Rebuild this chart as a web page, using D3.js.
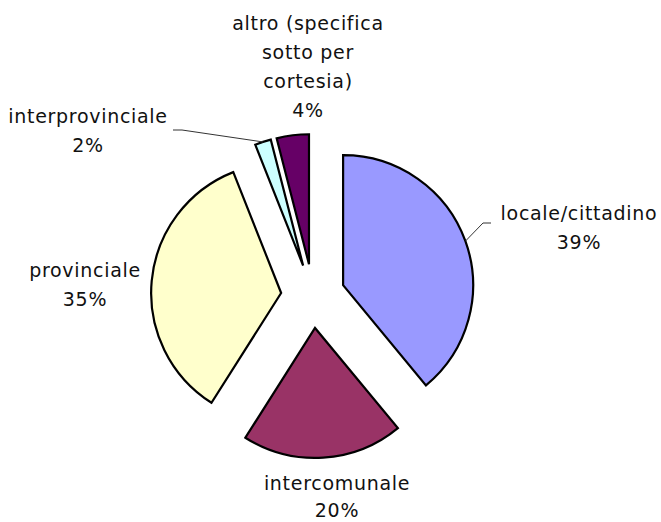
<!DOCTYPE html>
<html>
<head>
<meta charset="utf-8">
<script src="https://cdn.jsdelivr.net/npm/d3@7/dist/d3.min.js"></script>
<style>
  html, body { margin: 0; padding: 0; background: #fff; }
  svg { display: block; }
  text { font-family: "DejaVu Sans", Verdana, sans-serif; font-size: 19px; fill: #111; letter-spacing: 0.7px; }
</style>
</head>
<body>
<svg id="chart" width="661" height="522"></svg>
<script>
// ---- data ----
const categories = ["locale/cittadino", "intercomunale", "provinciale", "interprovinciale", "altro (specifica sotto per cortesia)"];
const values = [39, 20, 35, 2, 4];
const percentLabels = ["39%", "20%", "35%", "2%", "4%"];
const colors = ["#9999FF", "#993366", "#FFFFCC", "#CCFFFF", "#660066"];
// label text lines (as wrapped in the original)
const labelLines = [
  ["locale/cittadino"],
  ["intercomunale"],
  ["provinciale"],
  ["interprovinciale"],
  ["altro (specifica", "sotto per", "cortesia)"]
];

// ---- layout ----
const W = 661, H = 522;
const cx = 313, cy = 296, R = 130, explode = 32;
const lineH = 29;
// label anchor (center x, first baseline y)
const labelPos = [
  { x: 579, y: 220, lh: 29, leader: [[491, 223], [483, 223]] },
  { x: 337, y: 490, lh: 27, leader: null },
  { x: 85,  y: 277, lh: 29, leader: null },
  { x: 88,  y: 123, lh: 29, leader: [[173, 130], [182, 130]] },
  { x: 308, y: 30,  lh: 29, leader: null }
];

const svg = d3.select("#chart");

const pie = d3.pie().sort(null).value(d => d)
  .startAngle(0).endAngle(2 * Math.PI);
const arcs = pie(values);
const arcGen = d3.arc().innerRadius(0).outerRadius(R);

const g = svg.append("g").attr("transform", `translate(${cx},${cy})`);

function offsetOf(a) {
  const mid = (a.startAngle + a.endAngle) / 2;
  return [explode * Math.sin(mid), -explode * Math.cos(mid)];
}

g.selectAll("path.slice")
  .data(arcs)
  .enter().append("path")
  .attr("class", "slice")
  .attr("d", arcGen)
  .attr("transform", d => { const o = offsetOf(d); return `translate(${o[0]},${o[1]})`; })
  .attr("fill", (d, i) => colors[i])
  .attr("stroke", "#000")
  .attr("stroke-width", 2.2)
  .attr("stroke-linejoin", "miter");

// leader lines
arcs.forEach((a, i) => {
  const lp = labelPos[i];
  if (!lp.leader) return;
  const o = offsetOf(a);
  const mid = (a.startAngle + a.endAngle) / 2;
  const ex = cx + o[0] + R * Math.sin(mid);
  const ey = cy + o[1] - R * Math.cos(mid);
  const pts = lp.leader.concat([[ex, ey]]);
  svg.append("path")
    .attr("d", d3.line()(pts))
    .attr("fill", "none")
    .attr("stroke", "#333")
    .attr("stroke-width", 1);
});

// labels
arcs.forEach((a, i) => {
  const lp = labelPos[i];
  const lines = labelLines[i].concat([percentLabels[i]]);
  const t = svg.append("text").attr("text-anchor", "middle");
  lines.forEach((ln, k) => {
    t.append("tspan").attr("x", lp.x).attr("y", lp.y + k * lp.lh).text(ln);
  });
});
</script>
</body>
</html>
